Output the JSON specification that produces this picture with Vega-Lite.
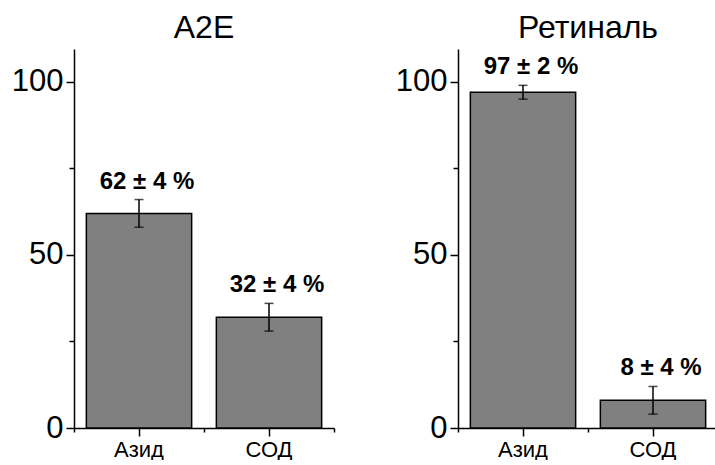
{
  "$schema": "https://vega.github.io/schema/vega-lite/v6.json",
  "padding": {"left": 11, "top": 12, "right": 0, "bottom": 0},
  "background": "white",
  "data": {"name": "bars"},
  "datasets": {
    "bars": [
      {"panel": "A2E", "cat": "Азид", "value": 62, "lo": 58, "hi": 66, "label": "62 ± 4 %"},
      {"panel": "A2E", "cat": "СОД", "value": 32, "lo": 28, "hi": 36, "label": "32 ± 4 %"},
      {"panel": "Ретиналь", "cat": "Азид", "value": 97, "lo": 95, "hi": 99, "label": "97 ± 2 %"},
      {"panel": "Ретиналь", "cat": "СОД", "value": 8, "lo": 4, "hi": 12, "label": "8 ± 4 %"}
    ]
  },
  "config": {
    "font": "Liberation Sans",
    "view": {"stroke": null},
    "axis": {"grid": false, "domainColor": "black", "tickColor": "black", "labelColor": "black", "domainWidth": 1.5, "tickWidth": 1.5, "labelFont": "Liberation Sans"},
    "title": {"font": "Liberation Sans", "fontSize": 32, "fontWeight": "normal", "color": "black", "anchor": "middle", "offset": 4}
  },
  "spacing": 60,
  "hconcat": [
    {
      "title": "A2E",
      "width": 260,
      "height": 379,
      "transform": [{"filter": "datum.panel === 'A2E'"}],
      "resolve": {"axis": {"x": "independent", "y": "independent"}},
      "layer": [
        {
          "mark": {"type": "bar", "fill": "#808080", "stroke": "black", "strokeWidth": 1.5, "width": {"band": 0.81}},
          "encoding": {
            "x": {"field": "cat", "type": "nominal", "sort": null, "scale": {"paddingInner": 0, "paddingOuter": 0}, "title": null,
              "axis": {"orient": "bottom", "labelAngle": 0, "labelFontSize": 22, "tickSize": 8, "labelPadding": 3}},
            "y": {"field": "value", "type": "quantitative", "scale": {"domain": [0, 109.5], "nice": false}, "title": null,
              "axis": {"orient": "left", "values": [0, 50, 100], "labelFontSize": 31, "tickSize": 8, "labelPadding": 3}}
          }
        },
        {
          "mark": {"type": "rule", "color": "black", "strokeWidth": 1.5},
          "encoding": {
            "x": {"field": "cat", "type": "nominal", "sort": null,
              "axis": {"orient": "bottom", "tickBand": "extent", "labels": false, "domain": false, "tickSize": 4, "title": null}},
            "y": {"field": "lo", "type": "quantitative",
              "axis": {"orient": "left", "values": [25, 75], "labels": false, "domain": false, "tickSize": 5, "title": null}},
            "y2": {"field": "hi"}
          }
        },
        {
          "mark": {"type": "tick", "color": "black", "thickness": 1.5, "size": 9},
          "encoding": {
            "x": {"field": "cat", "type": "nominal", "sort": null, "axis": null},
            "y": {"field": "lo", "type": "quantitative", "axis": null}
          }
        },
        {
          "mark": {"type": "tick", "color": "black", "thickness": 1.5, "size": 9},
          "encoding": {
            "x": {"field": "cat", "type": "nominal", "sort": null, "axis": null},
            "y": {"field": "hi", "type": "quantitative", "axis": null}
          }
        },
        {
          "mark": {"type": "text", "fontSize": 24, "fontWeight": "bold", "color": "black", "baseline": "alphabetic", "dy": -11, "dx": 8},
          "encoding": {
            "x": {"field": "cat", "type": "nominal", "sort": null, "axis": null},
            "y": {"field": "hi", "type": "quantitative", "axis": null},
            "text": {"field": "label"}
          }
        }
      ]
    },
    {
      "title": "Ретиналь",
      "width": 260,
      "height": 379,
      "transform": [{"filter": "datum.panel === 'Ретиналь'"}],
      "resolve": {"axis": {"x": "independent", "y": "independent"}},
      "layer": [
        {
          "mark": {"type": "bar", "fill": "#808080", "stroke": "black", "strokeWidth": 1.5, "width": {"band": 0.81}},
          "encoding": {
            "x": {"field": "cat", "type": "nominal", "sort": null, "scale": {"paddingInner": 0, "paddingOuter": 0}, "title": null,
              "axis": {"orient": "bottom", "labelAngle": 0, "labelFontSize": 22, "tickSize": 8, "labelPadding": 3}},
            "y": {"field": "value", "type": "quantitative", "scale": {"domain": [0, 109.5], "nice": false}, "title": null,
              "axis": {"orient": "left", "values": [0, 50, 100], "labelFontSize": 31, "tickSize": 8, "labelPadding": 3}}
          }
        },
        {
          "mark": {"type": "rule", "color": "black", "strokeWidth": 1.5},
          "encoding": {
            "x": {"field": "cat", "type": "nominal", "sort": null,
              "axis": {"orient": "bottom", "tickBand": "extent", "labels": false, "domain": false, "tickSize": 4, "title": null}},
            "y": {"field": "lo", "type": "quantitative",
              "axis": {"orient": "left", "values": [25, 75], "labels": false, "domain": false, "tickSize": 5, "title": null}},
            "y2": {"field": "hi"}
          }
        },
        {
          "mark": {"type": "tick", "color": "black", "thickness": 1.5, "size": 9},
          "encoding": {
            "x": {"field": "cat", "type": "nominal", "sort": null, "axis": null},
            "y": {"field": "lo", "type": "quantitative", "axis": null}
          }
        },
        {
          "mark": {"type": "tick", "color": "black", "thickness": 1.5, "size": 9},
          "encoding": {
            "x": {"field": "cat", "type": "nominal", "sort": null, "axis": null},
            "y": {"field": "hi", "type": "quantitative", "axis": null}
          }
        },
        {
          "mark": {"type": "text", "fontSize": 24, "fontWeight": "bold", "color": "black", "baseline": "alphabetic", "dy": -11, "dx": 8},
          "encoding": {
            "x": {"field": "cat", "type": "nominal", "sort": null, "axis": null},
            "y": {"field": "hi", "type": "quantitative", "axis": null},
            "text": {"field": "label"}
          }
        }
      ]
    }
  ]
}
